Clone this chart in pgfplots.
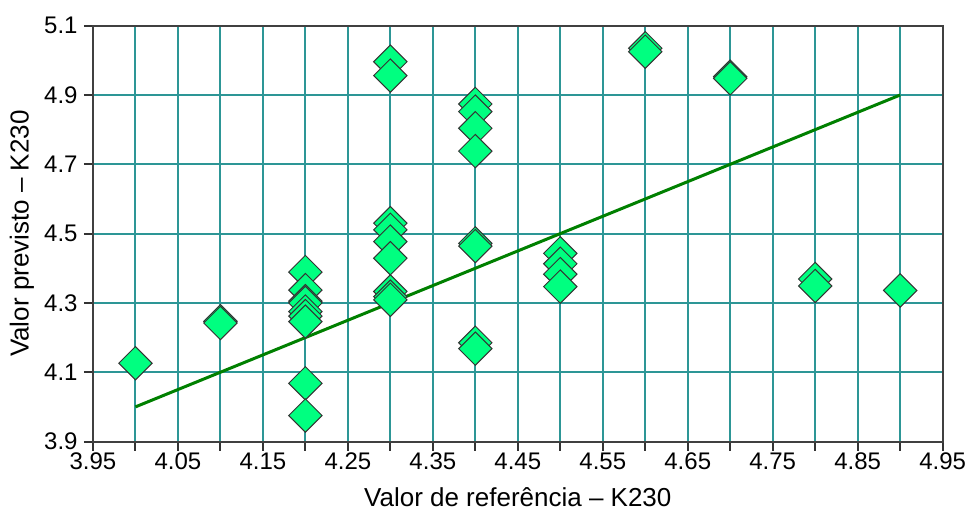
\documentclass[border=0pt]{standalone}
\usepackage{fontspec}
\setmainfont{Liberation Sans}
\usepackage{pgfplots}
\pgfplotsset{compat=1.18}
\definecolor{gridteal}{RGB}{45,150,150}
\definecolor{markgreen}{RGB}{0,255,128}
\definecolor{linegreen}{RGB}{0,128,0}
\begin{document}
\fontsize{12}{14}\selectfont
\begin{tikzpicture}
\begin{axis}[
  scale only axis,
  width=425pt, height=208pt,
  xmin=3.95, xmax=4.95, ymin=3.9, ymax=5.1,
  xtick={3.95,4.00,4.05,4.10,4.15,4.20,4.25,4.30,4.35,4.40,4.45,4.50,4.55,4.60,4.65,4.70,4.75,4.80,4.85,4.90,4.95},
  xticklabels={3.95,,4.05,,4.15,,4.25,,4.35,,4.45,,4.55,,4.65,,4.75,,4.85,,4.95},
  ytick={3.9,4.1,4.3,4.5,4.7,4.9,5.1},
  yticklabels={3.9,4.1,4.3,4.5,4.7,4.9,5.1},
  tick align=outside,
  major tick length=4.5pt,
  tick pos=left,
  tick style={black!80, line width=1pt},
  grid=major,
  major grid style={gridteal, line width=1pt},
  axis line style={black!75, line width=1pt},
  xticklabel style={font=\fontsize{12}{14}\selectfont, yshift=3pt},
  yticklabel style={font=\fontsize{12}{14}\selectfont, xshift=1pt},
  xlabel={Valor de referência – K230},
  ylabel={Valor previsto – K230},
  xlabel style={at={(axis description cs:0.5,-0.133)}, anchor=center, font=\fontsize{13}{15}\selectfont},
  ylabel style={at={(axis description cs:-0.0835,0.5)}, anchor=center, font=\fontsize{13}{15}\selectfont},
  clip=false,
]
\addplot[only marks, mark=square*, mark size=5.9pt,
  mark options={rotate=45, fill=markgreen, draw=black!80, line width=0.5pt}]
coordinates {
(4.0,4.126)
(4.1,4.247) (4.1,4.242)
(4.2,4.389) (4.2,4.337) (4.2,4.305) (4.2,4.300) (4.2,4.275) (4.2,4.262) (4.2,4.246) (4.2,4.068) (4.2,3.975)
(4.3,4.996) (4.3,4.956) (4.3,4.530) (4.3,4.511) (4.3,4.477) (4.3,4.429) (4.3,4.333) (4.3,4.318) (4.3,4.309)
(4.4,4.874) (4.4,4.852) (4.4,4.804) (4.4,4.738) (4.4,4.472) (4.4,4.464) (4.4,4.185) (4.4,4.168)
(4.5,4.443) (4.5,4.413) (4.5,4.383) (4.5,4.347)
(4.6,5.035) (4.6,5.025)
(4.7,4.953) (4.7,4.948)
(4.8,4.369) (4.8,4.349)
(4.9,4.336)
};
\addplot[linegreen, line width=1.5pt] coordinates {(4.0,4.0) (4.9,4.9)};
\end{axis}
\path ([shift={(-46.5pt,-41.7pt)}]current axis.south west) rectangle ([shift={(15.5pt,12.85pt)}]current axis.north east);
\end{tikzpicture}
\end{document}
